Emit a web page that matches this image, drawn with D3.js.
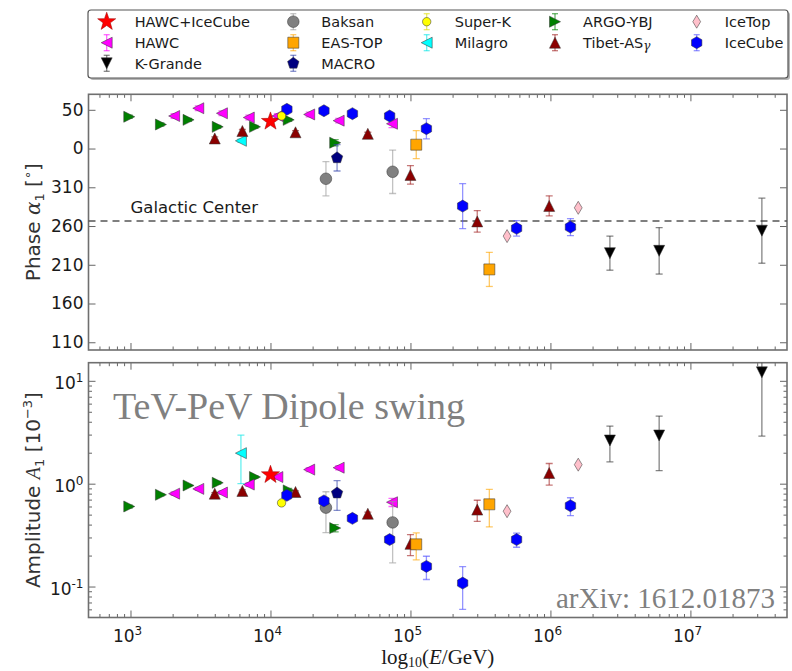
<!DOCTYPE html>
<html>
<head>
<meta charset="utf-8">
<script src="https://cdn.jsdelivr.net/npm/d3@7"></script>
<style>
  html, body { margin: 0; padding: 0; background: #fff; }
  svg { display: block; }
  text { font-family: "DejaVu Sans", sans-serif; fill: #1a1a1a; }
</style>
</head>
<body>
<svg id="chart" width="792" height="671"></svg>
<script>
// Energies in GeV, phase in degrees of right ascension, amplitude in units of 1e-3.

const hawcIcecubeE = [1.0e4];
const hawcIcecubePhase = [35];
const hawcIcecubePhaseErr = [0];
const hawcIcecubeAmp = [1.22];
const hawcIcecubeAmpErr = [0];

const hawcE = [2050, 3050, 4500, 7000, 11200, 18900, 30700, 73800];
const hawcPhase = [42, 52, 45.5, 40, 42, 44, 36, 32];
const hawcPhaseErr = [3, 3, 3, 3, 3, 3, 3, 5];
const hawcAmp = [0.80, 0.89, 0.82, 0.98, 1.16, 1.37, 1.43, 0.66];
const hawcAmpErr = [0.03, 0.03, 0.03, 0.04, 0.05, 0.06, 0.07, 0.06];

const kgrandeE = [2.66e6, 5.98e6, 3.24e7];
const kgrandePhase = [225, 228, 254];
const kgrandePhaseErr = [22, 30, 42];
const kgrandeAmp = [2.63, 2.94, 12.1];
const kgrandeAmpErr = [1.0, 1.6, 9.2];

const baksanE = [24900, 74600];
const baksanPhase = [321, 330];
const baksanPhaseErr = [22, 28];
const baksanAmp = [0.585, 0.42];
const baksanAmpErr = [0.25, 0.25];

const eastopE = [110000, 366000];
const eastopPhase = [5, 204];
const eastopPhaseErr = [18, 22];
const eastopAmp = [0.257, 0.63];
const eastopAmpErr = [0.075, 0.25];

const macroE = [29900];
const macroPhase = [348];
const macroPhaseErr = [17];
const macroAmp = [0.81];
const macroAmpErr = [0.26];

const superkE = [12000];
const superkPhase = [42];
const superkPhaseErr = [2];
const superkAmp = [0.65];
const superkAmpErr = [0.03];

const milagroE = [6150];
const milagroPhase = [10];
const milagroPhaseErr = [2];
const milagroAmp = [1.98];
const milagroAmpErr = [0.98];

const argoE = [980, 1650, 2600, 4200, 7750, 13500, 29000];
const argoPhase = [41, 31, 37, 28, 28, 37, 7.5];
const argoPhaseErr = [2, 2, 2, 2, 2, 2, 4];
const argoAmp = [0.60, 0.78, 0.96, 1.02, 1.16, 0.86, 0.37];
const argoAmpErr = [0.02, 0.02, 0.02, 0.03, 0.03, 0.04, 0.03];

const tibetE = [4000, 6300, 15100, 49600, 100000, 300000, 980000];
const tibetPhase = [13, 22.6, 21, 19, 326, 266, 286];
const tibetPhaseErr = [2, 2, 2, 2, 12, 14, 13];
const tibetAmp = [0.80, 0.85, 0.83, 0.51, 0.26, 0.56, 1.27];
const tibetAmpErr = [0.02, 0.02, 0.02, 0.02, 0.06, 0.13, 0.30];

const icetopE = [490000, 1580000];
const icetopPhase = [247, 283.5];
const icetopPhaseErr = [0, 0];
const icetopAmp = [0.54, 1.53];
const icetopAmpErr = [0, 0];

const icecubeE = [13100, 24100, 38500, 71000, 130000, 236000, 573000, 1390000];
const icecubePhase = [50.6, 48.8, 45, 42, 25.6, 285.7, 257, 258.6];
const icecubePhaseErr = [3, 3, 3, 4, 13, 29, 10, 11];
const icecubeAmp = [0.77, 0.68, 0.46, 0.286, 0.157, 0.108, 0.286, 0.61];
const icecubeAmpErr = [0.03, 0.03, 0.02, 0.02, 0.04, 0.048, 0.045, 0.12];

const galacticCenterRA = 266.4;

const phaseTicks = [110, 160, 210, 260, 310, 360, 410];
const energyTicks = [1e3, 1e4, 1e5, 1e6, 1e7];
const ampTicks = [0.1, 1, 10];

// ---------------------------------------------------------------------------

const svg = d3.select("#chart");
const L = 88.5, R = 787;
const topY0 = 94.3, topY1 = 350;
const botY0 = 362.7, botY1 = 617.5;

const x = d3.scaleLog().domain([Math.pow(10, 2.7), Math.pow(10, 7.69)]).range([L, R]);
const yPhase = d3.scaleLinear().domain([100, 430]).range([topY1, topY0]);
const yAmp = d3.scaleLog().domain([0.05, 15]).range([botY1, botY0]);

// phases below 100 deg are drawn one turn up so the axis runs 50, 0, 310, ...
const unwrap = p => (p < 100 ? p + 360 : p);

function marker(kind, r) {
  const poly = pts => "M" + pts.map(p => p[0].toFixed(2) + "," + p[1].toFixed(2)).join("L") + "Z";
  const ring = (n, rad, a0) => d3.range(n).map(k => {
    const a = a0 + k * 2 * Math.PI / n;
    return [rad * Math.cos(a), rad * Math.sin(a)];
  });
  switch (kind) {
    case "up": return poly([[0, -r], [r, r], [-r, r]]);
    case "down": return poly([[0, r], [r, -r], [-r, -r]]);
    case "left": return poly([[-r, 0], [r, -r], [r, r]]);
    case "right": return poly([[r, 0], [-r, r], [-r, -r]]);
    case "square": return poly([[-r, -r], [r, -r], [r, r], [-r, r]]);
    case "diamond": return poly([[0, -r], [0.6 * r, 0], [0, r], [-0.6 * r, 0]]);
    case "hex": return poly(ring(6, r, -Math.PI / 2));
    case "pent": return poly(ring(5, r, -Math.PI / 2));
    case "star": {
      const pts = [];
      for (let k = 0; k < 10; k++) {
        const rad = k % 2 === 0 ? r : r * 0.4;
        const a = -Math.PI / 2 + k * Math.PI / 5;
        pts.push([rad * Math.cos(a), rad * Math.sin(a)]);
      }
      return poly(pts);
    }
    default: return d3.arc()({innerRadius: 0, outerRadius: r, startAngle: 0, endAngle: 2 * Math.PI});
  }
}

const series = [
  {name: "HAWC+IceCube", E: hawcIcecubeE, ph: hawcIcecubePhase, phE: hawcIcecubePhaseErr, A: hawcIcecubeAmp, AE: hawcIcecubeAmpErr,
   shape: "star", r: 9.5, fill: "#ff0000", stroke: "#990000", err: "#ff0000", legendErr: false},
  {name: "HAWC", E: hawcE, ph: hawcPhase, phE: hawcPhaseErr, A: hawcAmp, AE: hawcAmpErr,
   shape: "left", r: 5.5, fill: "#ff00ff", err: "#ff00ff", legendErr: true},
  {name: "K-Grande", E: kgrandeE, ph: kgrandePhase, phE: kgrandePhaseErr, A: kgrandeAmp, AE: kgrandeAmpErr,
   shape: "down", r: 5.5, fill: "#000000", err: "#333333", legendErr: true},
  {name: "Baksan", E: baksanE, ph: baksanPhase, phE: baksanPhaseErr, A: baksanAmp, AE: baksanAmpErr,
   shape: "circle", r: 5.8, fill: "#808080", err: "#9a9a9a", legendErr: true},
  {name: "EAS-TOP", E: eastopE, ph: eastopPhase, phE: eastopPhaseErr, A: eastopAmp, AE: eastopAmpErr,
   shape: "square", r: 5.5, fill: "#ffa500", err: "#ffa500", legendErr: true},
  {name: "MACRO", E: macroE, ph: macroPhase, phE: macroPhaseErr, A: macroAmp, AE: macroAmpErr,
   shape: "pent", r: 6, fill: "#000080", err: "#3344aa", legendErr: true},
  {name: "Super-K", E: superkE, ph: superkPhase, phE: superkPhaseErr, A: superkAmp, AE: superkAmpErr,
   shape: "circle", r: 4.2, fill: "#ffff00", err: "#dddd00", legendErr: true},
  {name: "Milagro", E: milagroE, ph: milagroPhase, phE: milagroPhaseErr, A: milagroAmp, AE: milagroAmpErr,
   shape: "left", r: 5.5, fill: "#00ffff", err: "#00e5e5", legendErr: true},
  {name: "ARGO-YBJ", E: argoE, ph: argoPhase, phE: argoPhaseErr, A: argoAmp, AE: argoAmpErr,
   shape: "right", r: 5.5, fill: "#008000", err: "#008000", legendErr: true},
  {name: "Tibet-AS", sub: "γ", E: tibetE, ph: tibetPhase, phE: tibetPhaseErr, A: tibetAmp, AE: tibetAmpErr,
   shape: "up", r: 5.5, fill: "#8b0000", err: "#a02020", legendErr: true},
  {name: "IceTop", E: icetopE, ph: icetopPhase, phE: icetopPhaseErr, A: icetopAmp, AE: icetopAmpErr,
   shape: "diamond", r: 6.5, fill: "#ffc0cb", err: "#ffc0cb", legendErr: false},
  {name: "IceCube", E: icecubeE, ph: icecubePhase, phE: icecubePhaseErr, A: icecubeAmp, AE: icecubeAmpErr,
   shape: "hex", r: 6, fill: "#0000ff", err: "#4d4dff", legendErr: true}
];

// draw order inside the panels: star near the end so it sits on top
const drawOrder = ["ARGO-YBJ", "HAWC", "Milagro", "Tibet-AS", "Baksan", "MACRO", "EAS-TOP",
  "IceTop", "K-Grande", "IceCube", "HAWC+IceCube", "Super-K"].map(n => series.find(s => s.name === n));

const defs = svg.append("defs");
defs.append("clipPath").attr("id", "clipTop").append("rect")
  .attr("x", L).attr("y", topY0).attr("width", R - L).attr("height", topY1 - topY0);
defs.append("clipPath").attr("id", "clipBot").append("rect")
  .attr("x", L).attr("y", botY0).attr("width", R - L).attr("height", botY1 - botY0);

// ---------------------------------------------------------------- axes / ticks
const frameColor = "#6f6f6f";
const tickColor = "#666";

function minorLogTicks(lo, hi) {
  const out = [];
  for (let d = Math.floor(Math.log10(lo)); d <= Math.ceil(Math.log10(hi)); d++) {
    for (let k = 2; k <= 9; k++) {
      const v = k * Math.pow(10, d);
      if (v > lo && v < hi) out.push(v);
    }
  }
  return out;
}
const xDom = x.domain();
const xMinor = minorLogTicks(xDom[0], xDom[1]);
const ampMinor = minorLogTicks(0.05, 15);

function styleAxis(g) {
  g.select(".domain").remove();
  g.selectAll(".tick line").attr("stroke", tickColor).attr("stroke-width", 1);
}

function xTicks(yTop, yBot) {
  svg.append("g").attr("transform", `translate(0,${yBot})`)
    .call(d3.axisBottom(x).tickValues(energyTicks).tickSize(-7).tickFormat("")).call(styleAxis);
  svg.append("g").attr("transform", `translate(0,${yBot})`)
    .call(d3.axisBottom(x).tickValues(xMinor).tickSize(-3.5).tickFormat("")).call(styleAxis);
  svg.append("g").attr("transform", `translate(0,${yTop})`)
    .call(d3.axisTop(x).tickValues(energyTicks).tickSize(-7).tickFormat("")).call(styleAxis);
  svg.append("g").attr("transform", `translate(0,${yTop})`)
    .call(d3.axisTop(x).tickValues(xMinor).tickSize(-3.5).tickFormat("")).call(styleAxis);
}
xTicks(topY0, topY1);
xTicks(botY0, botY1);

// phase axis
svg.append("g").attr("transform", `translate(${L},0)`)
  .call(d3.axisLeft(yPhase).tickValues(phaseTicks).tickSize(-7).tickPadding(5)
    .tickFormat(v => String(v % 360)))
  .call(styleAxis)
  .call(g => g.selectAll("text").style("font-size", "17px").attr("fill", "#1a1a1a")
    .style("font-family", "DejaVu Sans"));
svg.append("g").attr("transform", `translate(${R},0)`)
  .call(d3.axisRight(yPhase).tickValues(phaseTicks).tickSize(-7).tickFormat(""))
  .call(styleAxis);

// amplitude axis (log)
function powerLabel(sel, exp) {
  sel.text(null);
  sel.append("tspan").text("10");
  sel.append("tspan").attr("dy", -7).style("font-size", "12px").text(exp);
}
const ampAxis = svg.append("g").attr("transform", `translate(${L},0)`)
  .call(d3.axisLeft(yAmp).tickValues(ampTicks).tickSize(-7).tickPadding(5).tickFormat(v => v))
  .call(styleAxis);
ampAxis.selectAll("text").style("font-size", "17px").style("font-family", "DejaVu Sans")
  .attr("fill", "#1a1a1a").attr("dy", "0.45em")
  .each(function(v) { powerLabel(d3.select(this), String(Math.round(Math.log10(v)))); });
svg.append("g").attr("transform", `translate(${L},0)`)
  .call(d3.axisLeft(yAmp).tickValues(ampMinor).tickSize(-3.5).tickFormat("")).call(styleAxis);
svg.append("g").attr("transform", `translate(${R},0)`)
  .call(d3.axisRight(yAmp).tickValues(ampTicks).tickSize(-7).tickFormat("")).call(styleAxis);
svg.append("g").attr("transform", `translate(${R},0)`)
  .call(d3.axisRight(yAmp).tickValues(ampMinor).tickSize(-3.5).tickFormat("")).call(styleAxis);

// energy tick labels under the lower panel
const eLab = svg.append("g").attr("transform", `translate(0,${botY1})`)
  .call(d3.axisBottom(x).tickValues(energyTicks).tickSize(0).tickPadding(0).tickFormat(v => v));
eLab.select(".domain").remove();
eLab.selectAll("text").style("font-size", "17px").style("font-family", "DejaVu Sans")
  .attr("fill", "#1a1a1a").attr("y", 24.5).attr("dy", null).attr("dx", "-0.2em")
  .each(function(v) { powerLabel(d3.select(this), String(Math.round(Math.log10(v)))); });

// panel frames
[[topY0, topY1], [botY0, botY1]].forEach(([a, b]) => {
  svg.append("rect").attr("x", L).attr("y", a).attr("width", R - L).attr("height", b - a)
    .attr("fill", "none").attr("stroke", frameColor).attr("stroke-width", 1.6);
});

// ---------------------------------------------------------------- reference line
svg.append("line")
  .attr("x1", L).attr("x2", R)
  .attr("y1", yPhase(galacticCenterRA)).attr("y2", yPhase(galacticCenterRA))
  .attr("stroke", "#555").attr("stroke-width", 1.5).attr("stroke-dasharray", "7,5");
svg.append("text").attr("x", x(1e3)).attr("y", yPhase(galacticCenterRA) - 8)
  .style("font-size", "16.5px").attr("fill", "#333").text("Galactic Center");

// ---------------------------------------------------------------- data points
function drawPanel(clipId, yOf, valueOf, errLo, errHi) {
  const g = svg.append("g").attr("clip-path", `url(#${clipId})`);
  drawOrder.forEach(s => {
    const pts = s.E.map((e, i) => ({e, i}));
    const eg = g.append("g").attr("stroke", s.err).attr("stroke-opacity", 0.6).attr("stroke-width", 1.3);
    pts.forEach(({e, i}) => {
      const lo = errLo(s, i), hi = errHi(s, i);
      if (hi - lo <= 0) return;
      const cx = x(e), y1 = yOf(Math.max(lo, 1e-6)), y2 = yOf(hi);
      eg.append("line").attr("x1", cx).attr("x2", cx).attr("y1", y1).attr("y2", y2);
      eg.append("line").attr("x1", cx - 3.5).attr("x2", cx + 3.5).attr("y1", y1).attr("y2", y1);
      eg.append("line").attr("x1", cx - 3.5).attr("x2", cx + 3.5).attr("y1", y2).attr("y2", y2);
    });
    g.append("g").selectAll("path").data(pts).join("path")
      .attr("transform", d => `translate(${x(d.e)},${yOf(valueOf(s, d.i))})`)
      .attr("d", marker(s.shape, s.r))
      .attr("fill", s.fill)
      .attr("stroke", s.stroke || "#333")
      .attr("stroke-opacity", 0.75)
      .attr("stroke-width", 0.7);
  });
}

drawPanel("clipTop", yPhase,
  (s, i) => unwrap(s.ph[i]),
  (s, i) => unwrap(s.ph[i]) - s.phE[i],
  (s, i) => unwrap(s.ph[i]) + s.phE[i]);

drawPanel("clipBot", yAmp,
  (s, i) => s.A[i],
  (s, i) => s.A[i] - s.AE[i],
  (s, i) => s.A[i] + s.AE[i]);

// ---------------------------------------------------------------- annotations
svg.append("text").attr("x", 113).attr("y", 419)
  .style("font-family", "'Liberation Serif', 'Times New Roman', serif")
  .style("font-size", "38px").style("fill", "#808080")
  .text("TeV-PeV Dipole swing");
svg.append("text").attr("x", 775).attr("y", 608).attr("text-anchor", "end")
  .style("font-family", "'Liberation Serif', 'Times New Roman', serif")
  .style("font-size", "29px").style("fill", "#808080")
  .text("arXiv: 1612.01873");

// ---------------------------------------------------------------- axis titles
const xl = svg.append("text").attr("x", (L + R) / 2).attr("y", 664).attr("text-anchor", "middle")
  .style("font-family", "'Liberation Serif', 'Times New Roman', serif").style("font-size", "21px");
xl.append("tspan").text("log");
xl.append("tspan").attr("dy", 3).style("font-size", "14px").text("10");
xl.append("tspan").attr("dy", -3).text("(");
xl.append("tspan").style("font-style", "italic").text("E");
xl.append("tspan").text("/GeV)");

const pl = svg.append("text")
  .attr("transform", `translate(40,${(topY0 + topY1) / 2}) rotate(-90)`)
  .attr("text-anchor", "middle").style("font-size", "20px").style("fill", "#333");
pl.append("tspan").text("Phase ");
pl.append("tspan").style("font-family", "'DejaVu Serif', serif").style("font-style", "italic").text("α");
pl.append("tspan").attr("dy", 4).style("font-size", "13px").text("1");
pl.append("tspan").attr("dy", -4).text(" [");
pl.append("tspan").attr("dy", -8).style("font-size", "13px").text("∘");
pl.append("tspan").attr("dy", 8).text("]");

const al = svg.append("text")
  .attr("transform", `translate(40,${(botY0 + botY1) / 2}) rotate(-90)`)
  .attr("text-anchor", "middle").style("font-size", "20px").style("fill", "#333");
al.append("tspan").text("Amplitude ");
al.append("tspan").style("font-family", "'Liberation Serif', serif").style("font-style", "italic").text("A");
al.append("tspan").attr("dy", 4).style("font-size", "13px").text("1");
al.append("tspan").attr("dy", -4).text(" [10");
al.append("tspan").attr("dy", -8).style("font-size", "13px").text("−3");
al.append("tspan").attr("dy", 8).text("]");

// ---------------------------------------------------------------- legend
const legX0 = 88, legX1 = 788, legY0 = 10, legY1 = 78;
svg.append("rect").attr("x", legX0 + 2).attr("y", legY0 + 2)
  .attr("width", legX1 - legX0).attr("height", legY1 - legY0).attr("rx", 3)
  .attr("fill", "#b5b5b5");
svg.append("rect").attr("x", legX0).attr("y", legY0)
  .attr("width", legX1 - legX0).attr("height", legY1 - legY0).attr("rx", 3)
  .attr("fill", "#fff").attr("stroke", "#555").attr("stroke-width", 1.2);

const colX = [106.7, 293.3, 426.7, 555, 696.7];
const rowY = [21.7, 42.7, 63.3];
const perCol = [3, 3, 2, 2, 2];
let idx = 0;
perCol.forEach((n, c) => {
  for (let r = 0; r < n; r++, idx++) {
    const s = series[idx];
    const g = svg.append("g").attr("transform", `translate(${colX[c]},${rowY[r]})`);
    if (s.legendErr) {
      const eg = g.append("g").attr("stroke", s.err).attr("stroke-opacity", 0.6).attr("stroke-width", 1.3);
      eg.append("line").attr("x1", 0).attr("x2", 0).attr("y1", -8).attr("y2", 8);
      eg.append("line").attr("x1", -3).attr("x2", 3).attr("y1", -8).attr("y2", -8);
      eg.append("line").attr("x1", -3).attr("x2", 3).attr("y1", 8).attr("y2", 8);
    }
    g.append("path").attr("d", marker(s.shape, s.r))
      .attr("fill", s.fill).attr("stroke", s.stroke || "#333")
      .attr("stroke-opacity", 0.75).attr("stroke-width", 0.7);
    const t = g.append("text").attr("x", 28).attr("y", 5.5).style("font-size", "14.5px").text(s.name);
    if (s.sub) t.append("tspan").attr("dy", 2).style("font-family", "'DejaVu Serif', serif")
      .style("font-style", "italic").style("font-size", "12px").text(s.sub);
  }
});
</script>
</body>
</html>
